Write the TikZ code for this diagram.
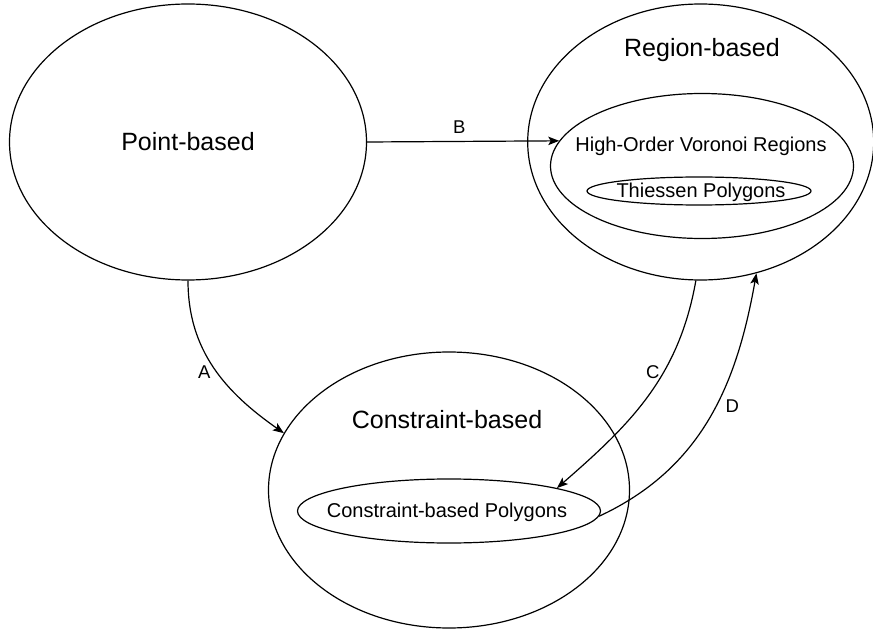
\documentclass[tikz,border=0pt]{standalone}
\usepackage{fontspec}
\setmainfont{Liberation Sans}
\usetikzlibrary{arrows.meta,shapes.geometric,positioning}
\tikzset{
    blob/.style={
        ellipse,
        draw,
        line width=1.2pt,
        inner sep=0pt,
    },
    bigtext/.style={font=\fontsize{25}{30}\selectfont},
    smalltext/.style={font=\fontsize{20}{24}\selectfont},
    edgetext/.style={font=\fontsize{18.5}{22}\selectfont},
}
\begin{document}
\begin{tikzpicture}[x=1pt,y=1pt,>={Stealth[length=11pt,width=8.5pt,inset=2.5pt]},line width=1.2pt,auto]
    \useasboundingbox (0,0) rectangle (873,-631);
    % outer groups
    \node [blob,bigtext,minimum width=357pt,minimum height=276pt] (point) at (188,-142) {Point-based};
    \node [blob,minimum width=346pt,minimum height=276pt] (region) [right=160pt of point] {};
    \node [blob,minimum width=361pt,minimum height=276pt] (constraint) at (449,-490) {};
    \node [bigtext] (regiontext) at (702,-50) {Region-based};
    \node [bigtext] (constrainttext) at (447,-420) {Constraint-based};
    % inner groups
    \node [blob,minimum width=303pt,minimum height=145pt] (voronoi) at (702,-166) {};
    \node [smalltext] (voronoitext) at (701,-146) {High-Order Voronoi Regions};
    \node [blob,minimum width=224pt,minimum height=28pt] (thiessen) at (699,-191) {};
    \node [smalltext] (thiessentext) at (701,-192) {Thiessen Polygons};
    \node [blob,minimum width=303pt,minimum height=64pt] (cpoly) at (449,-511) {};
    \node [smalltext] (cpolytext) at (447,-512) {Constraint-based Polygons};
    % connectors
    \path[->] (point.east) edge node [edgetext,pos=0.48,above=4pt] {B} (voronoi.170);
    \path[->] (point.south) edge [out=-90,in=145] node [edgetext,pos=0.53,left=3pt] {A} (constraint.161);
    \path[->] (region.268) edge [out=-100,in=41] node [edgetext,pos=0.38,left] {C} (cpoly.12);
    \path[->] (cpoly.-2) edge [out=25,in=260] node [edgetext,pos=0.55,right=6pt] {D} (region.293);
\end{tikzpicture}
\end{document}
